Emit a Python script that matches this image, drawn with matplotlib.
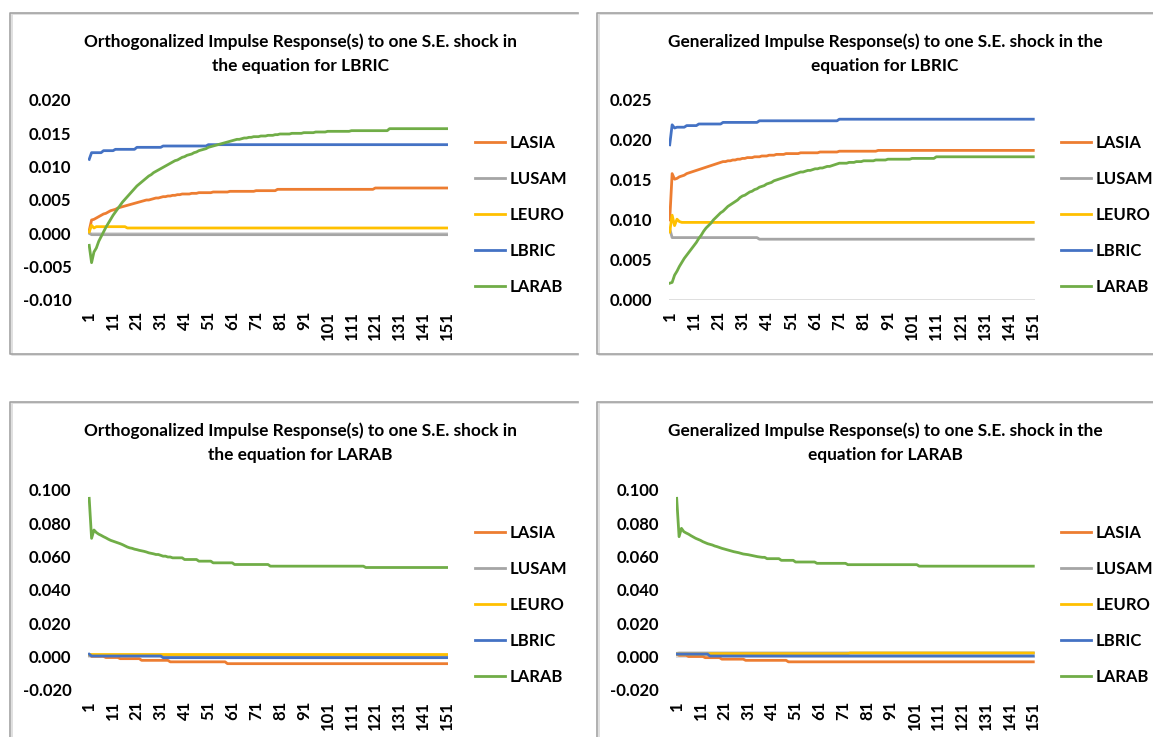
import matplotlib
matplotlib.use("Agg")
import matplotlib.pyplot as plt
from matplotlib.lines import Line2D

W, H = 1153, 737

SERIES = ["LASIA", "LUSAM", "LEURO", "LBRIC", "LARAB"]
COLORS = ["#ED7D31", "#A5A5A5", "#FFC000", "#4472C4", "#70AD47"]
PERIODS = list(range(1, 152))
XTICKS = [1, 11, 21, 31, 41, 51, 61, 71, 81, 91, 101, 111, 121, 131, 141, 151]
XTICK_LABELS = ["1", "11", "21", "31", "41", "51", "61", "71", "81", "91",
                "101", "111", "121", "131", "141", "151"]

TITLES = [
    "Orthogonalized Impulse Response(s) to one S.E. shock in\nthe equation for LBRIC",
    "Generalized Impulse Response(s) to one S.E. shock in the\nequation for LBRIC",
    "Orthogonalized Impulse Response(s) to one S.E. shock in\nthe equation for LARAB",
    "Generalized Impulse Response(s) to one S.E. shock in the\nequation for LARAB",
]

YTICKS_TL = [-0.010, -0.005, 0.000, 0.005, 0.010, 0.015, 0.020]
YLABELS_TL = ["-0.010", "-0.005", "0.000", "0.005", "0.010", "0.015", "0.020"]
YTICKS_TR = [0.000, 0.005, 0.010, 0.015, 0.020, 0.025]
YLABELS_TR = ["0.000", "0.005", "0.010", "0.015", "0.020", "0.025"]
YTICKS_B = [-0.020, 0.000, 0.020, 0.040, 0.060, 0.080, 0.100]
YLABELS_B = ["-0.020", "0.000", "0.020", "0.040", "0.060", "0.080", "0.100"]

# ---- values as (value, number of consecutive periods) ----
# Panel 1: Orthogonalized, shock LBRIC
TL_LASIA = [(0.0004, 1), (0.0020, 1), (0.0021, 1), (0.0023, 1), (0.0025, 1), (0.0027, 1),
            (0.0029, 1), (0.0030, 1), (0.0032, 1), (0.0034, 1), (0.0035, 1), (0.0036, 1),
            (0.0038, 1), (0.0039, 1), (0.0040, 1), (0.0041, 1), (0.0042, 1), (0.0043, 1),
            (0.0044, 1), (0.0045, 1), (0.0046, 1), (0.0047, 1), (0.0048, 1), (0.0049, 1),
            (0.0050, 2), (0.0051, 1), (0.0052, 1), (0.0053, 2), (0.0054, 1), (0.0055, 2),
            (0.0056, 2), (0.0057, 2), (0.0058, 2), (0.0059, 4), (0.0060, 3), (0.0061, 6),
            (0.0062, 7), (0.0063, 11), (0.0064, 9), (0.0066, 41), (0.0068, 31)]
TL_LUSAM = [(0.0000, 1), (-0.0002, 150)]
TL_LEURO = [(0.0002, 1), (0.0012, 1), (0.0008, 1), (0.0010, 13), (0.0008, 135)]
TL_LBRIC = [(0.0111, 1), (0.0121, 5), (0.0124, 5), (0.0126, 9), (0.0129, 11),
            (0.0131, 19), (0.0133, 101)]
TL_LARAB = [(-0.0018, 1), (-0.0044, 1), (-0.0028, 1), (-0.0022, 1), (-0.0012, 1),
            (-0.0005, 1), (0.0002, 1), (0.0009, 1), (0.0015, 1), (0.0021, 1),
            (0.0027, 1), (0.0032, 1), (0.0037, 1), (0.0042, 1), (0.0047, 1),
            (0.0051, 1), (0.0055, 1), (0.0059, 1), (0.0063, 1), (0.0067, 1),
            (0.0071, 1), (0.0074, 1), (0.0077, 1), (0.0080, 1), (0.0083, 1),
            (0.0086, 1), (0.0088, 1), (0.0091, 1), (0.0093, 1), (0.0095, 1),
            (0.0097, 1), (0.0099, 1), (0.0101, 1), (0.0103, 1), (0.0105, 1),
            (0.0107, 1), (0.0109, 1), (0.0110, 1), (0.0112, 1), (0.0114, 1),
            (0.0115, 1), (0.0117, 1), (0.0118, 1), (0.0119, 1), (0.0121, 1),
            (0.0122, 1), (0.0124, 1), (0.0125, 1), (0.0126, 1), (0.0127, 1),
            (0.0129, 1), (0.0130, 1), (0.0131, 1), (0.0132, 1), (0.0133, 1),
            (0.0134, 1), (0.0135, 1), (0.0136, 1), (0.0137, 1), (0.0138, 1),
            (0.0139, 1), (0.0140, 1), (0.0141, 2), (0.0142, 1), (0.0143, 2),
            (0.0144, 2), (0.0145, 3), (0.0146, 3), (0.0147, 3), (0.0148, 2),
            (0.0149, 5), (0.0150, 5), (0.0151, 5), (0.0152, 5), (0.0153, 10),
            (0.0154, 16), (0.0157, 25)]

# Panel 2: Generalized, shock LBRIC
TR_LASIA = [(0.0100, 1), (0.0158, 1), (0.0151, 1), (0.0152, 1), (0.0154, 1), (0.0155, 1),
            (0.0156, 1), (0.0158, 1), (0.0159, 1), (0.0160, 1), (0.0161, 1), (0.0162, 1),
            (0.0163, 1), (0.0164, 1), (0.0165, 1), (0.0166, 1), (0.0167, 1), (0.0168, 1),
            (0.0169, 1), (0.0170, 1), (0.0171, 1), (0.0172, 1), (0.0173, 2), (0.0174, 2),
            (0.0175, 2), (0.0176, 2), (0.0177, 2), (0.0178, 3), (0.0179, 3), (0.0180, 3),
            (0.0181, 3), (0.0182, 4), (0.0183, 6), (0.0184, 8), (0.0185, 8), (0.0186, 16),
            (0.0187, 65)]
TR_LUSAM = [(0.0089, 1), (0.0078, 36), (0.0076, 114)]
TR_LEURO = [(0.0085, 1), (0.0106, 1), (0.0093, 1), (0.0101, 1), (0.0098, 1), (0.0097, 146)]
TR_LBRIC = [(0.0194, 1), (0.0219, 1), (0.0215, 1), (0.0216, 4), (0.0218, 5), (0.0220, 10),
            (0.0222, 15), (0.0224, 33), (0.0226, 81)]
TR_LARAB = [(0.0021, 1), (0.0022, 1), (0.0031, 1), (0.0036, 1), (0.0042, 1), (0.0047, 1),
            (0.0052, 1), (0.0056, 1), (0.0060, 1), (0.0064, 1), (0.0068, 1), (0.0072, 1),
            (0.0077, 1), (0.0081, 1), (0.0086, 1), (0.0090, 1), (0.0093, 1), (0.0096, 1),
            (0.0100, 1), (0.0103, 1), (0.0106, 1), (0.0109, 1), (0.0111, 1), (0.0114, 1),
            (0.0117, 1), (0.0119, 1), (0.0121, 1), (0.0123, 1), (0.0125, 1), (0.0128, 1),
            (0.0130, 1), (0.0131, 1), (0.0133, 1), (0.0135, 1), (0.0136, 1), (0.0138, 1),
            (0.0139, 1), (0.0141, 1), (0.0142, 1), (0.0143, 1), (0.0145, 1), (0.0146, 1),
            (0.0147, 1), (0.0149, 1), (0.0150, 1), (0.0151, 1), (0.0152, 1), (0.0153, 1),
            (0.0154, 1), (0.0155, 1), (0.0156, 1), (0.0157, 1), (0.0158, 1), (0.0159, 1),
            (0.0160, 2), (0.0161, 1), (0.0162, 2), (0.0163, 1), (0.0164, 2), (0.0165, 2),
            (0.0166, 1), (0.0167, 2), (0.0168, 1), (0.0169, 1), (0.0170, 1), (0.0171, 4),
            (0.0172, 3), (0.0173, 3), (0.0174, 5), (0.0175, 5), (0.0176, 10), (0.0177, 10),
            (0.0179, 41)]

# Panel 3: Orthogonalized, shock LARAB
BL_LASIA = [(0.0010, 1), (0.0002, 6), (-0.0005, 6), (-0.0012, 9), (-0.0022, 12),
            (-0.0031, 24), (-0.0042, 93)]
BL_LUSAM = [(0.0012, 151)]
BL_LEURO = [(0.0016, 151)]
BL_LBRIC = [(0.0015, 1), (0.0004, 30), (-0.0006, 120)]
BL_LARAB = [(0.0950, 1), (0.0710, 1), (0.0760, 1), (0.0745, 1), (0.0735, 1), (0.0728, 1),
            (0.0720, 1), (0.0713, 1), (0.0705, 1), (0.0698, 1), (0.0693, 1), (0.0688, 1),
            (0.0683, 1), (0.0678, 1), (0.0672, 1), (0.0665, 1), (0.0658, 1), (0.0653, 1),
            (0.0650, 1), (0.0645, 1), (0.0642, 1), (0.0638, 1), (0.0635, 1), (0.0632, 1),
            (0.0628, 1), (0.0623, 1), (0.0620, 1), (0.0617, 1), (0.0613, 2), (0.0608, 1),
            (0.0603, 2), (0.0598, 2), (0.0593, 5), (0.0583, 6), (0.0573, 6), (0.0563, 9),
            (0.0553, 15), (0.0543, 40), (0.0535, 35)]

# Panel 4: Generalized, shock LARAB
BR_LASIA = [(0.0015, 1), (0.0008, 4), (0.0001, 7), (-0.0006, 7), (-0.0015, 10),
            (-0.0022, 18), (-0.0031, 104)]
BR_LUSAM = [(0.0020, 1), (0.0022, 150)]
BR_LEURO = [(0.0015, 14), (0.0018, 59), (0.0022, 78)]
BR_LBRIC = [(0.0015, 14), (0.0004, 137)]
BR_LARAB = [(0.0950, 1), (0.0720, 1), (0.0770, 1), (0.0750, 1), (0.0742, 1), (0.0735, 1),
            (0.0726, 1), (0.0718, 1), (0.0710, 1), (0.0704, 1), (0.0698, 1), (0.0690, 1),
            (0.0684, 1), (0.0678, 1), (0.0674, 1), (0.0670, 1), (0.0664, 1), (0.0660, 1),
            (0.0655, 1), (0.0650, 1), (0.0646, 1), (0.0642, 1), (0.0638, 1), (0.0634, 1),
            (0.0630, 1), (0.0627, 1), (0.0624, 1), (0.0620, 1), (0.0616, 1), (0.0614, 1),
            (0.0612, 1), (0.0609, 1), (0.0606, 1), (0.0603, 1), (0.0600, 1), (0.0598, 1),
            (0.0596, 2), (0.0588, 6), (0.0578, 6), (0.0568, 9), (0.0560, 13), (0.0552, 30),
            (0.0543, 49)]


def expand(runs):
    out = []
    for v, n in runs:
        out.extend([v] * n)
    return out


FONT = ["Lato", "DejaVu Sans"]
plt.rcParams["font.family"] = FONT
plt.rcParams["font.weight"] = "bold"

TICK_FS = 12
LEG_FS = 12
TITLE_FS = 12.4

fig = plt.figure(figsize=(W / 100, H / 100), dpi=100)
fig.patch.set_facecolor("white")


def fx(x):
    return x / W


def fy(y):
    return 1 - y / H


panels = [
    dict(title=TITLES[0], data=[TL_LASIA, TL_LUSAM, TL_LEURO, TL_LBRIC, TL_LARAB],
         ylim=(-0.010, 0.020), yt=YTICKS_TL, yl=YLABELS_TL,
         box=(88, 100, 448, 300), tpos=(300, 54), lpos=(475, 215),
         border=(10.5, 12.5, 578, 353.5)),
    dict(title=TITLES[1], data=[TR_LASIA, TR_LUSAM, TR_LEURO, TR_LBRIC, TR_LARAB],
         ylim=(0.000, 0.025), yt=YTICKS_TR, yl=YLABELS_TR,
         box=(668.5, 100, 1034.5, 300), tpos=(885, 54), lpos=(1061, 215),
         border=(597, 12.5, 1160, 353.5)),
    dict(title=TITLES[2], data=[BL_LASIA, BL_LUSAM, BL_LEURO, BL_LBRIC, BL_LARAB],
         ylim=(-0.020, 0.100), yt=YTICKS_B, yl=YLABELS_B,
         box=(88, 490, 448, 690), tpos=(300, 443), lpos=(475, 605),
         border=(10.5, 401.5, 578, 760)),
    dict(title=TITLES[3], data=[BR_LASIA, BR_LUSAM, BR_LEURO, BR_LBRIC, BR_LARAB],
         ylim=(-0.020, 0.100), yt=YTICKS_B, yl=YLABELS_B,
         box=(675.5, 490, 1034.5, 690), tpos=(885, 443), lpos=(1061, 605),
         border=(597, 401.5, 1160, 760)),
]

for p in panels:
    # panel border (Excel chart area frame) with soft shadow
    x0, y0, x1, y1 = p["border"]
    for off, col, lw in [(1.6, "#DADADA", 1.2), (0, "#A3A3A3", 1.2)]:
        fig.add_artist(Line2D([fx(x1), fx(x0 + off), fx(x0 + off), fx(x1)],
                              [fy(y0 + off), fy(y0 + off), fy(y1 + off), fy(y1 + off)],
                              color=col, lw=lw, transform=fig.transFigure))

    l, t, r, b = p["box"]
    ax = fig.add_axes([fx(l), fy(b), fx(r) - fx(l), fy(t) - fy(b)])
    ax.set_facecolor("none")
    ax.axhline(0, color="#D9D9D9", lw=1.2, zorder=1)
    handles = []
    for name, col, runs in zip(SERIES, COLORS, p["data"]):
        h, = ax.plot(PERIODS, expand(runs), color=col, lw=2.0, label=name,
                     solid_joinstyle="round", zorder=2)
        handles.append(h)
    ax.set_xlim(0.5, 151.5)
    ax.set_ylim(*p["ylim"])
    ax.set_yticks(p["yt"])
    ax.set_yticklabels(p["yl"], fontsize=TICK_FS, fontweight="bold")
    ax.set_xticks(XTICKS)
    ax.set_xticklabels(XTICK_LABELS, fontsize=TICK_FS, fontweight="bold", rotation=90,
                       ha="center", va="top")
    ax.tick_params(axis="both", length=0)
    ax.tick_params(axis="y", pad=12)
    ax.tick_params(axis="x", pad=8)
    for s in ax.spines.values():
        s.set_visible(False)

    tx, ty = p["tpos"]
    fig.text(fx(tx), fy(ty), p["title"], ha="center", va="center", fontsize=TITLE_FS,
             fontweight="bold", linespacing=1.6, color="#000000")

    lx, ly = p["lpos"]
    ax.legend(handles, SERIES, loc="center left", bbox_to_anchor=(fx(lx), fy(ly)),
              bbox_transform=fig.transFigure, frameon=False, handlelength=1.8,
              handletextpad=0.25, labelspacing=1.2, borderpad=0, borderaxespad=0,
              prop=dict(family=FONT, size=LEG_FS, weight="bold"))

fig.savefig("out.png", dpi=100, facecolor="white")
